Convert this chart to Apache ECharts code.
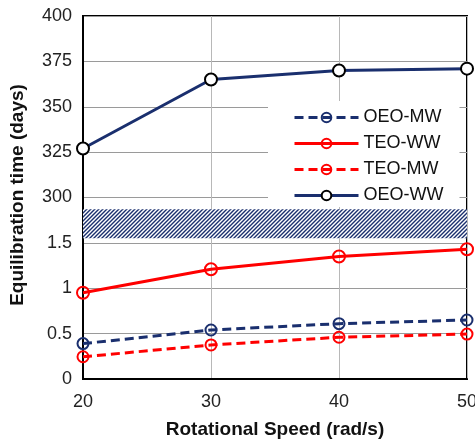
<!DOCTYPE html>
<html><head><meta charset="utf-8">
<script src="https://cdn.jsdelivr.net/npm/echarts@6/dist/echarts.min.js"></script>
<style>html,body{margin:0;padding:0;background:#fff}#c{width:475px;height:441px}</style>
</head><body><div id="c"></div>
<script>
const speeds = [20, 30, 40, 50];
const oeoWW = [327, 365, 370, 371];
const teoWW = [0.95, 1.21, 1.35, 1.43];
const oeoMW = [0.39, 0.54, 0.61, 0.65];
const teoMW = [0.245, 0.375, 0.46, 0.495];
const upperTicks = [300, 325, 350, 375, 400];
const lowerTicks = [0, 0.5, 1, 1.5];
const breakBand = [1.55, 1.87];

const NAVY = '#1a2f6e', RED = '#ff0000';
const F = 'Liberation Sans, Arial, sans-serif';

function hatch() {
  const c = document.createElement('canvas');
  c.width = 4; c.height = 4;
  const g = c.getContext('2d');
  g.fillStyle = '#fff'; g.fillRect(0, 0, 4, 4);
  g.strokeStyle = NAVY; g.lineWidth = 1.4;
  g.beginPath();
  g.moveTo(0, 4); g.lineTo(4, 0);
  g.moveTo(-1, 1); g.lineTo(1, -1);
  g.moveTo(3, 5); g.lineTo(5, 3);
  g.stroke();
  return c;
}

const pair = a => speeds.map((s, i) => [s, a[i]]);
const chart = echarts.init(document.getElementById('c'));
chart.setOption({
  animation: false,
  backgroundColor: '#fff',
  grid: { left: 83, right: 8, top: 16, bottom: 62, containLabel: false, outerBoundsMode: 'none',
    show: true, borderColor: '#000', borderWidth: 2, backgroundColor: 'transparent' },
  xAxis: {
    type: 'value', min: 20, max: 50, interval: 10,
    axisLine: { lineStyle: { color: '#000', width: 2 } },
    axisTick: { show: false },
    axisLabel: { fontSize: 18, color: '#222', fontFamily: F, margin: 14 },
    splitLine: { show: true, lineStyle: { color: '#b8b8b8', width: 1 } },
    name: 'Rotational Speed (rad/s)', nameLocation: 'middle', nameGap: 41,
    nameTextStyle: { fontSize: 19, fontWeight: 'bold', color: '#111', fontFamily: F }
  },
  yAxis: [
    {
      type: 'value', min: 200, max: 400, interval: 25, position: 'left',
      axisLine: { show: true, lineStyle: { color: '#000', width: 2 } },
      axisTick: { show: false },
      axisLabel: { fontSize: 18, color: '#222', fontFamily: F, margin: 11,
        formatter: v => upperTicks.indexOf(v) >= 0 ? String(v) : '' },
      splitLine: { show: true, lineStyle: { color: '#9a9a9a', width: 1 } }
    },
    {
      type: 'value', min: 0, max: 4, interval: 0.5, position: 'left', offset: 0,
      axisLine: { show: false }, axisTick: { show: false },
      axisLabel: { fontSize: 18, color: '#222', fontFamily: F, margin: 11,
        formatter: v => lowerTicks.indexOf(v) >= 0 ? String(v) : '' },
      splitLine: { show: false }
    }
  ],
  legend: {
    orient: 'vertical', left: 268, top: 101,
    padding: [6, 16, 1, 25], backgroundColor: '#fff',
    itemWidth: 64, itemHeight: 12, itemGap: 5,
    lineStyle: { width: 3 },
    textStyle: { fontSize: 18, color: '#111', fontFamily: F, lineHeight: 21 },
    data: ['OEO-MW', 'TEO-WW', 'TEO-MW', 'OEO-WW']
  },
  graphic: [{
    type: 'text', x: 18, y: 195, rotation: Math.PI / 2,
    style: { text: 'Equilibration time (days)', font: 'bold 19px ' + F, fill: '#111', textAlign: 'center', textVerticalAlign: 'middle' }
  }],
  series: [
    {
      name: 'TEO-MW', type: 'line', yAxisIndex: 1, data: pair(teoMW),
      symbol: 'circle', symbolSize: 11,
      lineStyle: { color: RED, width: 3, type: [9, 5] },
      itemStyle: { color: 'rgba(255,255,255,0)', borderColor: RED, borderWidth: 2 },
      markArea: { silent: true, itemStyle: { color: { image: hatch(), repeat: 'repeat' } },
        data: [[{ yAxis: breakBand[0] }, { yAxis: breakBand[1] }]] }
    },
    {
      name: 'OEO-MW', type: 'line', yAxisIndex: 1, data: pair(oeoMW),
      symbol: 'circle', symbolSize: 11,
      lineStyle: { color: NAVY, width: 3, type: [9, 5] },
      itemStyle: { color: 'rgba(255,255,255,0)', borderColor: NAVY, borderWidth: 2 }
    },
    {
      name: 'TEO-WW', type: 'line', yAxisIndex: 1, data: pair(teoWW),
      symbol: 'circle', symbolSize: 12,
      lineStyle: { color: RED, width: 3 },
      itemStyle: { color: 'rgba(255,255,255,0)', borderColor: RED, borderWidth: 2 }
    },
    {
      name: 'OEO-WW', type: 'line', yAxisIndex: 0, data: pair(oeoWW),
      symbol: 'circle', symbolSize: 12,
      lineStyle: { color: NAVY, width: 3 },
      itemStyle: { color: '#fff', borderColor: '#000', borderWidth: 2 }
    }
  ]
});
</script></body></html>
